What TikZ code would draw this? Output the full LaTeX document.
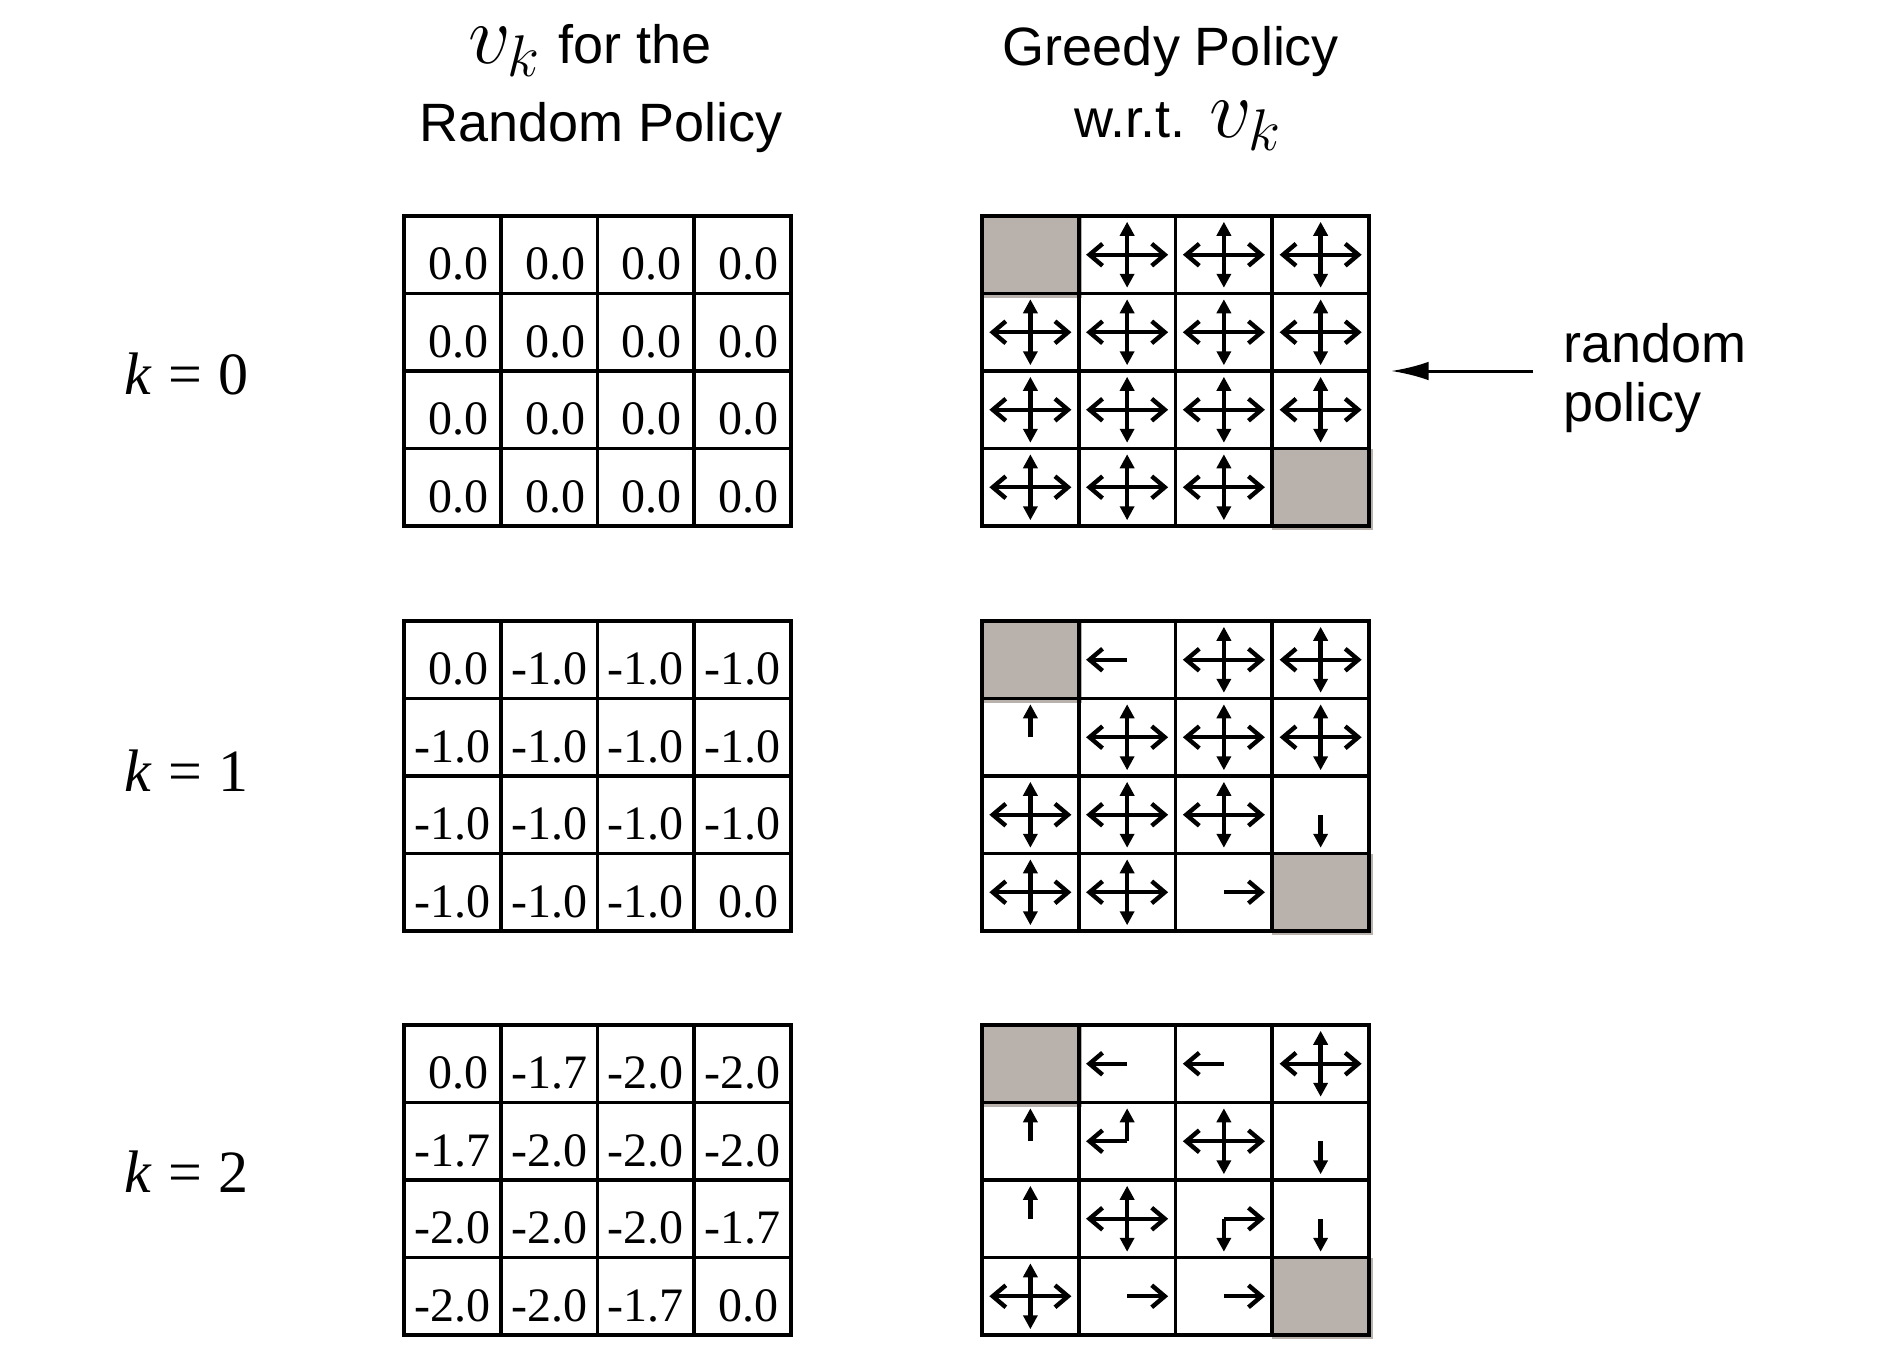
\documentclass[tikz,border=0pt]{standalone}
\usepackage{fix-cm}
\usepackage{fontspec}
\setmainfont{Liberation Serif}
\newfontfamily\headfont{Liberation Sans}
\usetikzlibrary{arrows.meta,calc}
\definecolor{termgray}{RGB}{185,178,172}
\tikzset{
  cellbox/.style={draw=black, line width=1.8pt, minimum width=48.375pt, minimum height=38.75pt, inner sep=0pt, outer sep=0pt},
  num/.style={anchor=base, inner sep=0pt, font=\fontsize{24}{28}\selectfont},
  hdr/.style={anchor=base, inner sep=0pt, font=\headfont\fontsize{27}{32}\selectfont},
  side/.style={anchor=base west, inner sep=0pt, font=\headfont\fontsize{27}{32}\selectfont},
  klabel/.style={anchor=base west, inner sep=0pt, font=\fontsize{30}{34}\selectfont},
  harr/.style={line width=2.2pt, -{Straight Barb[length=6.5pt,width=11pt,line width=2.2pt]}},
  varr/.style={line width=2.2pt, -{Triangle[length=7pt,width=7pt]}},
  bigarr/.style={line width=1.5pt, -{Latex[length=18.8pt,width=9.3pt]}},
  term/.style={fill=termgray, draw=none}
}
\newcommand\goL[1]{\draw[harr] (#1.center) -- ++(-41,0);}
\newcommand\goR[1]{\draw[harr] (#1.center) -- ++(41,0);}
\newcommand\goU[1]{\draw[varr] (#1.center) -- ++(0,-33);}
\newcommand\goD[1]{\draw[varr] (#1.center) -- ++(0,33);}
\newcommand\goA[1]{\goL{#1}\goR{#1}\goU{#1}\goD{#1}}
\newcommand\zp{\hspace*{6pt}0.0}
\newcommand\vrow[6]{%
  \node[num] (N#1-#2-0) at ($(V#1-#20.center)+(0,25)$) {#3};
  \node[num] (N#1-#2-1) at ($(V#1-#21.center)+(0,25)$) {#4};
  \node[num] (N#1-#2-2) at ($(V#1-#22.center)+(0,25)$) {#5};
  \node[num] (N#1-#2-3) at ($(V#1-#23.center)+(0,25)$) {#6};
}
\newcommand\mvk{{\fontsize{42}{46}\selectfont$v_k$}}
\begin{document}
\begin{tikzpicture}[x=0.5pt,y=-0.5pt]
\useasboundingbox (0,0) rectangle (1884,1354);
% headers
\node[hdr] (h1) at (590,64) {\mvk\hspace{9pt}for the};
\node[hdr] (h2) at (601,141) {Random Policy};
\node[hdr] (h3) at (1171,66) {Greedy Policy};
\node[hdr] (h4) at (1178,138) {w.r.t.\hspace{12pt}\mvk};
% k labels
\node[klabel] (k0) at (124,394) {\textit{k}\hspace{0.27em}=\hspace{0.27em}0};
\node[klabel] (k1) at (124,791) {\textit{k}\hspace{0.27em}=\hspace{0.27em}1};
\node[klabel] (k2) at (124,1192) {\textit{k}\hspace{0.27em}=\hspace{0.27em}2};
% grids
\foreach \k/\T in {0/216,1/621,2/1025}{
  \fill[termgray] (984,\T+2) rectangle (982+96.75+3,\T+77.5+4);
  \fill[termgray] (982+3*96.75,\T+232.5) rectangle (1369+4,\T+310+4);
  \foreach \r in {0,1,2,3}{
    \foreach \c in {0,1,2,3}{
      \node[cellbox] (V\k-\r\c) at ({404+96.75*(\c+0.5)},{\T+77.5*(\r+0.5)}) {};
      \node[cellbox] (P\k-\r\c) at ({982+96.75*(\c+0.5)},{\T+77.5*(\r+0.5)}) {};
    }
  }
}
% values k=0
\vrow{0}{0}{\zp}{\zp}{\zp}{\zp}
\vrow{0}{1}{\zp}{\zp}{\zp}{\zp}
\vrow{0}{2}{\zp}{\zp}{\zp}{\zp}
\vrow{0}{3}{\zp}{\zp}{\zp}{\zp}
% values k=1
\vrow{1}{0}{\zp}{-1.0}{-1.0}{-1.0}
\vrow{1}{1}{-1.0}{-1.0}{-1.0}{-1.0}
\vrow{1}{2}{-1.0}{-1.0}{-1.0}{-1.0}
\vrow{1}{3}{-1.0}{-1.0}{-1.0}{\zp}
% values k=2
\vrow{2}{0}{\zp}{-1.7}{-2.0}{-2.0}
\vrow{2}{1}{-1.7}{-2.0}{-2.0}{-2.0}
\vrow{2}{2}{-2.0}{-2.0}{-2.0}{-1.7}
\vrow{2}{3}{-2.0}{-2.0}{-1.7}{\zp}
% policies k=0
\foreach \n in {01,02,03,10,11,12,13,20,21,22,23,30,31,32}{\goA{P0-\n}}
% policies k=1
\goL{P1-01}
\foreach \n in {02,03,11,12,13,20,21,22,30,31}{\goA{P1-\n}}
\goU{P1-10}
\goD{P1-23}
\goR{P1-32}
% policies k=2
\goL{P2-01} \goL{P2-02}
\goA{P2-03}
\goU{P2-10}
\goL{P2-11} \goU{P2-11}
\goA{P2-12}
\goD{P2-13}
\goU{P2-20}
\goA{P2-21}
\goR{P2-22} \goD{P2-22}
\goD{P2-23}
\goA{P2-30}
\goR{P2-31} \goR{P2-32}
% random policy annotation
\node[side] (rp1) at (1563,362) {random};
\node[side] (rp2) at (1563,421) {policy};
\coordinate (rpA) at (1533,371);
\coordinate (rpB) at (1391,371);
\draw[bigarr] (rpA) -- (rpB);
\end{tikzpicture}
\end{document}
